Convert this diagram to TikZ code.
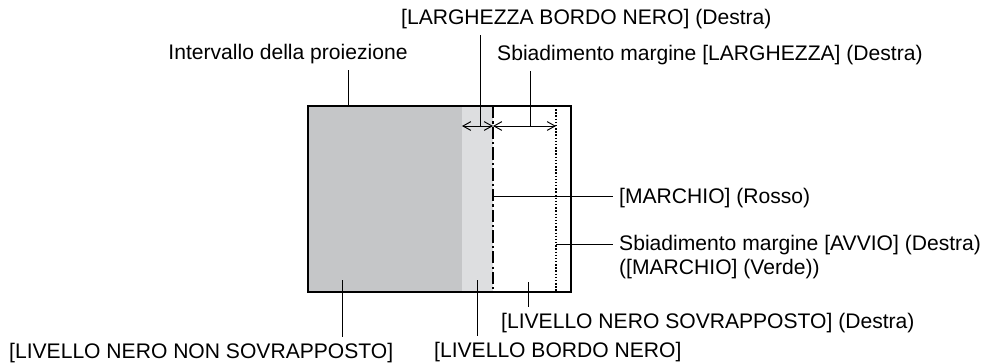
\documentclass[tikz,border=0pt]{standalone}
\usepackage{fontspec}
\setmainfont{Liberation Sans}
\usepackage{xcolor}
\usetikzlibrary{arrows.meta, positioning, calc}

\definecolor{openGray}{RGB}{197,198,200}
\definecolor{edgeGray}{RGB}{221,222,224}

\begin{document}
\begin{tikzpicture}[
  >={Straight Barb[length=4.5pt, width=5pt]},
  lbl/.style={font=\fontsize{12}{13.5}\selectfont},
  lead/.style={line width=0.55pt},
  every node/.style={lbl},
]
  \useasboundingbox (0,0) rectangle (19.72,7.26);

  % image areas
  \fill[openGray] (6.16,1.42) rectangle (9.24,5.14);
  \fill[edgeGray] (9.24,1.42) rectangle (9.86,5.14);
  \draw[line width=0.9pt] (6.16,1.42) rectangle (11.42,5.14);

  % marker lines
  \draw[line width=1.2pt, dash pattern=on 7pt off 1.8pt on 1.2pt off 1.8pt] (9.86,5.14) -- (9.86,1.42);
  \draw[line width=0.7pt, dash pattern=on 0.8pt off 1pt] (11.12,5.14) -- (11.12,1.42);

  % width arrows
  \coordinate (aL) at (9.24,4.74);
  \coordinate (aM) at (9.86,4.74);
  \coordinate (aR) at (11.12,4.74);
  \draw[lead, <->] (aL) -- (aM);
  \draw[lead, <->] (aM) -- (aR);

  % leader points
  \coordinate (pRange) at (6.96,5.14);
  \coordinate (pBorderW) at (9.60,4.74);
  \coordinate (pFadeW) at (10.60,4.74);
  \coordinate (pMark) at (9.86,3.34);
  \coordinate (pStart) at (11.12,2.38);
  \coordinate (pOver) at (10.56,1.62);
  \coordinate (pNonOver) at (6.84,1.66);
  \coordinate (pEdgeLvl) at (9.54,1.66);

  % labels
  \node[anchor=base] (range) at (5.76,6.08) {Intervallo della proiezione};
  \node[anchor=base west] (borderW) at (7.90,6.78) {[LARGHEZZA BORDO NERO] (Destra)};
  \node[anchor=base west] (fadeW) at (9.82,6.06) {Sbiadimento margine [LARGHEZZA] (Destra)};
  \node[anchor=base west] (mark) at (12.26,3.20) {[MARCHIO] (Rosso)};
  \node[anchor=north west, align=left] (start) at (12.26,2.67) {Sbiadimento margine [AVVIO] (Destra)\\([MARCHIO] (Verde))};
  \node[anchor=base west] (over) at (9.90,0.70) {[LIVELLO NERO SOVRAPPOSTO] (Destra)};
  \node[anchor=base west] (nonOver) at (0.06,0.10) {[LIVELLO NERO NON SOVRAPPOSTO]};
  \node[anchor=base west] (edgeLvl) at (8.56,0.12) {[LIVELLO BORDO NERO]};

  % leaders
  \draw[lead] (pRange) -- (pRange |- range.south);
  \draw[lead] (pBorderW) -- (pBorderW |- borderW.south);
  \draw[lead] (pFadeW) -- (pFadeW |- fadeW.south);
  \draw[lead] (pMark) -- (pMark -| mark.west);
  \draw[lead] (pStart) -- (pStart -| start.west);
  \draw[lead] (pOver) -- (pOver |- over.north);
  \draw[lead] (pNonOver) -- (pNonOver |- nonOver.north);
  \draw[lead] (pEdgeLvl) -- (pEdgeLvl |- edgeLvl.north);
\end{tikzpicture}
\end{document}
